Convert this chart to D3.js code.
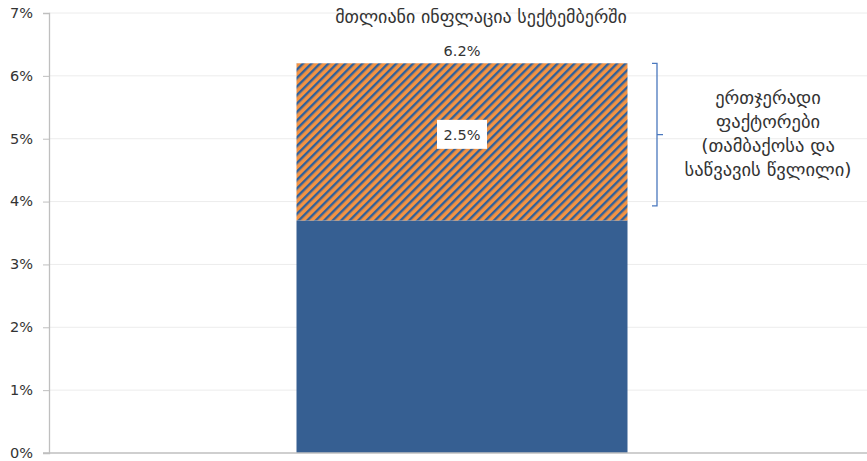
<!DOCTYPE html>
<html>
<head>
<meta charset="utf-8">
<script src="https://cdn.jsdelivr.net/npm/d3@7"></script>
<style>
  html, body { margin: 0; padding: 0; background: #fff; }
  svg { display: block; }
  text { font-family: "DejaVu Sans", sans-serif; fill: #333; }
</style>
</head>
<body>
<svg id="chart" width="867" height="461"></svg>
<script>
// September headline inflation split into the underlying part and one-off factors
const categories = ["სექტემბერი"];
const baseValues = [3.7];      // inflation excluding one-off factors
const oneOffValues = [2.5];    // tobacco and fuel contribution
const totalLabels = ["6.2%"];
const oneOffLabels = ["2.5%"];
const yTicks = [0, 1, 2, 3, 4, 5, 6, 7];
const yTickLabels = ["0%", "1%", "2%", "3%", "4%", "5%", "6%", "7%"];
const titleText = "მთლიანი ინფლაცია სექტემბერში";
const braceSpan = [6.2, 3.93];
const noteLines = ["ერთჯერადი", "ფაქტორები", "(თამბაქოსა და", "საწვავის წვლილი)"];

const W = 867, H = 461;
const margin = { left: 49, right: 0, top: 13, bottom: 8 };
const svg = d3.select("#chart");

const y = d3.scaleLinear().domain([0, 7]).range([H - margin.bottom, margin.top]);

// hatch pattern for one-off factors
const P = 6.0;
const defs = svg.append("defs");
const pat = defs.append("pattern")
  .attr("id", "hatch")
  .attr("patternUnits", "userSpaceOnUse")
  .attr("width", P).attr("height", P)
  .attr("patternTransform", "rotate(45)");
pat.append("rect").attr("width", P).attr("height", P).attr("fill", "#F39343");
pat.append("rect").attr("width", 2.4).attr("height", P).attr("fill", "#30609A");

// gridlines
svg.append("g")
  .selectAll("line")
  .data(yTicks.filter(d => d > 0))
  .join("line")
  .attr("x1", margin.left).attr("x2", W)
  .attr("y1", d => y(d)).attr("y2", d => y(d))
  .attr("stroke", "#ececec").attr("stroke-width", 1);

// bars
const bw = 331;
const cx = 462;
svg.append("g").selectAll("rect")
  .data(categories)
  .join("rect")
  .attr("x", () => cx - bw / 2)
  .attr("width", bw)
  .attr("y", (d, i) => y(baseValues[i]))
  .attr("height", (d, i) => y(0) - y(baseValues[i]))
  .attr("fill", "#365F92");

svg.append("g").selectAll("rect")
  .data(categories)
  .join("rect")
  .attr("x", () => cx - bw / 2)
  .attr("width", bw)
  .attr("y", (d, i) => y(baseValues[i] + oneOffValues[i]))
  .attr("height", (d, i) => y(baseValues[i]) - y(baseValues[i] + oneOffValues[i]))
  .attr("fill", "url(#hatch)");

// y axis
const yAxis = d3.axisLeft(y)
  .tickValues(yTicks)
  .tickFormat((d, i) => yTickLabels[i])
  .tickSize(6)
  .tickPadding(10);
const gy = svg.append("g").attr("transform", `translate(${margin.left},0)`).call(yAxis);
gy.select(".domain").attr("stroke", "#bfbfbf").attr("stroke-width", 1.3);
gy.selectAll(".tick line").attr("stroke", "#bfbfbf");
gy.selectAll(".tick text")
  .attr("font-size", 14.5).attr("fill", "#333")
  .style("font-family", "'DejaVu Sans', sans-serif")
  .attr("dy", "0.3em");

// x axis baseline
svg.append("line")
  .attr("x1", margin.left - 6).attr("x2", W)
  .attr("y1", y(0)).attr("y2", y(0))
  .attr("stroke", "#bfbfbf").attr("stroke-width", 1.3);

// title and total
svg.append("text")
  .attr("x", 481).attr("y", 23)
  .attr("text-anchor", "middle")
  .attr("font-size", 18)
  .text(titleText);

svg.append("text")
  .attr("x", cx).attr("y", y(baseValues[0] + oneOffValues[0]) - 7)
  .attr("text-anchor", "middle")
  .attr("font-size", 14.5)
  .text(totalLabels[0]);

// one-off label in a white box
const midY = y(baseValues[0] + oneOffValues[0] / 2) - 7;
svg.append("rect")
  .attr("x", cx - 25).attr("y", midY - 15)
  .attr("width", 50).attr("height", 29)
  .attr("fill", "#fff");
svg.append("text")
  .attr("x", cx).attr("y", midY)
  .attr("text-anchor", "middle").attr("dy", "0.35em")
  .attr("font-size", 14.5)
  .text(oneOffLabels[0]);

// brace
const bx = 657, braceTop = y(braceSpan[0]), braceBot = y(braceSpan[1]), braceMid = (braceTop + braceBot) / 2;
svg.append("path")
  .attr("d", `M${bx - 5},${braceTop} H${bx} V${braceBot} H${bx - 5} M${bx},${braceMid} H${bx + 6}`)
  .attr("fill", "none")
  .attr("stroke", "#4A78BE")
  .attr("stroke-width", 1.3);

// note
svg.append("g").selectAll("text")
  .data(noteLines)
  .join("text")
  .attr("x", 768)
  .attr("y", (d, i) => 104 + i * 24)
  .attr("text-anchor", "middle")
  .attr("font-size", 18.5)
  .text(d => d);
</script>
</body>
</html>
